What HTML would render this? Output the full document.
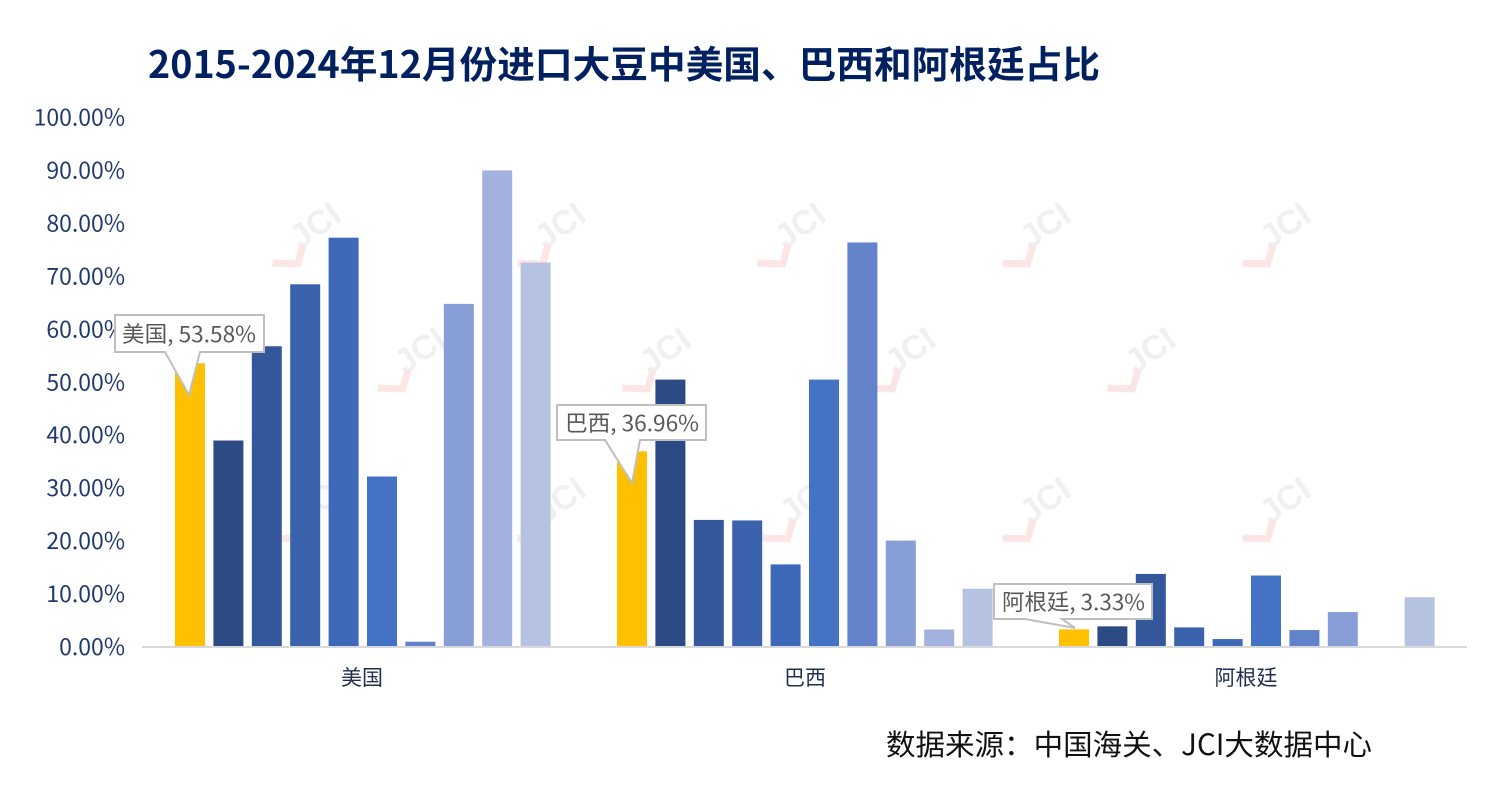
<!DOCTYPE html>
<html><head><meta charset="utf-8"><style>
body{margin:0;background:#fff;}
svg{display:block;font-family:"Liberation Sans","Noto Sans CJK SC",sans-serif;}
</style></head><body>
<svg id="s" width="1494" height="795" xmlns="http://www.w3.org/2000/svg">
<rect width="1494" height="795" fill="#fff"/>
<text x="148" y="78" font-size="37.5" font-weight="bold" fill="#002060" font-family="Noto Sans CJK SC, sans-serif" textLength="952" lengthAdjust="spacingAndGlyphs">2015-2024年12月份进口大豆中美国、巴西和阿根廷占比</text>
<g id="wm"></g>
<g id="yl" font-size="23" fill="#1F3A6E" text-anchor="end" font-family="Noto Sans CJK SC, sans-serif"></g>
<g id="bars"></g>
<line x1="142" y1="647" x2="1467" y2="647" stroke="#d9d9d9" stroke-width="2"/>
<g font-size="21" fill="#1F2F50" text-anchor="middle" font-family="Noto Sans CJK SC, sans-serif">
<text x="362" y="685">美国</text><text x="805" y="685">巴西</text><text x="1246" y="685">阿根廷</text>
</g>
<g font-size="22" fill="#595959" font-family="Noto Sans CJK SC, sans-serif">
<path d="M115,315 H264 V352 H200 L189,395 L165,352 H115 Z" fill="#fff" stroke="#bfbfbf" stroke-width="2"/>
<text x="122" y="342" textLength="134" lengthAdjust="spacingAndGlyphs">美国, 53.58%</text>
<path d="M557,405 H706 V440 H640 L632,483 L605,440 H557 Z" fill="#fff" stroke="#bfbfbf" stroke-width="2"/>
<text x="565" y="431" textLength="134" lengthAdjust="spacingAndGlyphs">巴西, 36.96%</text>
<path d="M994,584 H1152 V619 H1062 L1075,628 L1025,619 H994 Z" fill="#fff" stroke="#bfbfbf" stroke-width="2"/>
<text x="1002" y="610" textLength="143" lengthAdjust="spacingAndGlyphs">阿根廷, 3.33%</text>
</g>
<text x="886" y="755" font-size="29" fill="#111" font-family="Noto Sans CJK SC, sans-serif" textLength="486" lengthAdjust="spacingAndGlyphs">数据来源：中国海关、JCI大数据中心</text>
</svg>
<script>
var NS="http://www.w3.org/2000/svg";
function el(p,t,a,txt){var e=document.createElementNS(NS,t);for(var k in a)e.setAttribute(k,a[k]);if(txt)e.textContent=txt;document.getElementById(p).appendChild(e);return e;}
var y0=647,sc=5.295;
for(var i=0;i<=10;i++){el("yl","text",{x:125,y:y0-i*52.95+8},(i*10)+".00%");}
var cols=["#FFC000","#2C4B85","#33579A","#3A62AD","#3E68B8","#4472C4","#6282CA","#889ED6","#A2B1DD","#B6C2E2"];
var data=[[53.58,39.0,56.8,68.5,77.3,32.2,1.0,64.8,90.0,72.6],[36.96,50.5,24.0,23.9,15.6,50.5,76.4,20.1,3.3,11.0],[3.33,3.9,13.8,3.7,1.5,13.5,3.2,6.6,0,9.4]];
var st=[175,617,1059];
var wm=[[300,250],[545,250],[785,250],[1030,250],[1270,250],[405,375],[650,375],[895,375],[1135,375],[305,525],[545,525],[790,525],[1030,525],[1270,525]];
wm.forEach(function(p){var g=el("wm","g",{transform:"translate("+p[0]+","+p[1]+") rotate(-35)",opacity:"0.5"});
var t=document.createElementNS(NS,"text");t.setAttribute("x",0);t.setAttribute("y",0);t.setAttribute("font-size","34");t.setAttribute("font-weight","bold");t.setAttribute("fill","#e3e3e3");t.textContent="JCI";g.appendChild(t);
var r=document.createElementNS(NS,"path");r.setAttribute("d","M-30,-5 L-10,10 L5,-2");r.setAttribute("stroke","#f8cccc");r.setAttribute("stroke-width","7");r.setAttribute("fill","none");g.appendChild(r);});
for(var g=0;g<3;g++)for(var j=0;j<10;j++){var h=data[g][j]*sc;if(h<=0)continue;el("bars","rect",{x:st[g]+j*38.4,y:y0-h,width:30,height:h,fill:cols[j]});}
</script>
</body></html>
